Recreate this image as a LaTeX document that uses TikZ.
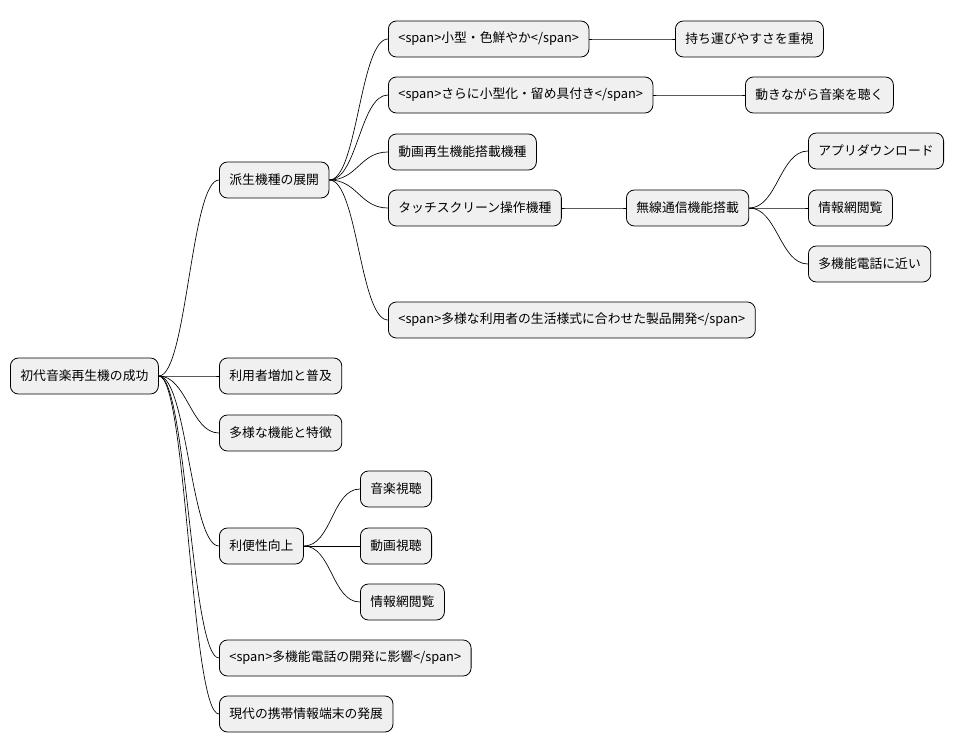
\documentclass[tikz,border=0pt]{standalone}
\usepackage{fontspec}
\setmainfont{Noto Sans CJK JP}
\tikzset{
  topic/.style={draw=black, fill=black!6, rounded corners=6pt, anchor=west,
    minimum height=27pt, inner xsep=7.5pt, font=\fontsize{9.6pt}{11pt}\selectfont, line width=0.6pt},
  branch/.style={line width=0.5pt}
}
\newcommand{\link}[2]{\draw[branch] (#1.east) .. controls +(28,0) and +(-28,0) .. (#2.west);}
\begin{document}
\begin{tikzpicture}[x=0.75pt,y=0.75pt,yscale=-1,xscale=1]
\useasboundingbox (0,0) rectangle (964,752);

% root
\node[topic] (root) at (10,376) {初代音楽再生機の成功};

% first level
\node[topic] (derive) at (219,180) {派生機種の展開};
\node[topic] (users) at (219,376) {利用者増加と普及};
\node[topic] (funcs) at (219,433) {多様な機能と特徴};
\node[topic] (conv) at (219,546) {利便性向上};
\node[topic] (phone) at (219,658) {<span>多機能電話の開発に影響</span>};
\node[topic] (modern) at (219,714) {現代の携帯情報端末の発展};

% derived models
\node[topic] (small) at (388,39) {<span>小型・色鮮やか</span>};
\node[topic] (carry) at (675,39) {持ち運びやすさを重視};
\node[topic] (clip) at (388,95) {<span>さらに小型化・留め具付き</span>};
\node[topic] (walk) at (745,95) {動きながら音楽を聴く};
\node[topic] (video) at (388,152) {動画再生機能搭載機種};
\node[topic] (touch) at (388,208) {タッチスクリーン操作機種};
\node[topic] (wifi) at (626,208) {無線通信機能搭載};
\node[topic] (app) at (808,151) {アプリダウンロード};
\node[topic] (web) at (808,208) {情報網閲覧};
\node[topic] (near) at (808,264) {多機能電話に近い};
\node[topic] (life) at (388,320) {<span>多様な利用者の生活様式に合わせた製品開発</span>};

% convenience
\node[topic] (music) at (360,489) {音楽視聴};
\node[topic] (movie) at (360,546) {動画視聴};
\node[topic] (net) at (360,602) {情報網閲覧};

% connectors
\foreach \c in {derive,users,funcs,conv,phone,modern} {\link{root}{\c}}
\foreach \c in {small,clip,video,touch,life} {\link{derive}{\c}}
\link{small}{carry}
\link{clip}{walk}
\link{touch}{wifi}
\foreach \c in {app,web,near} {\link{wifi}{\c}}
\foreach \c in {music,movie,net} {\link{conv}{\c}}

\end{tikzpicture}
\end{document}
